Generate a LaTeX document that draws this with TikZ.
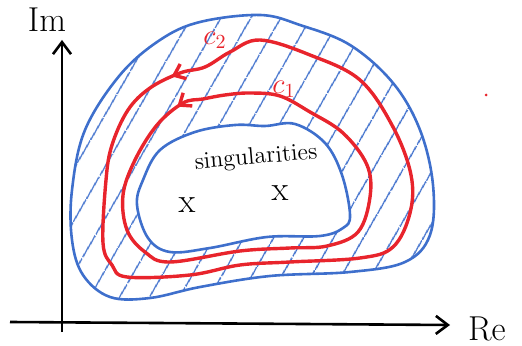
\documentclass[tikz,border=0pt]{standalone}
\usepackage{tikz}
\usetikzlibrary{arrows.meta,patterns.meta,decorations.markings}
\definecolor{contourRed}{HTML}{E8242C}
\definecolor{regionBlue}{HTML}{3E6FCC}

\tikzset{
  axisline/.style={line width=1.3pt, black, -{Straight Barb[length=6pt,width=9pt]}},
  regionline/.style={line width=1.3pt, regionBlue},
  hatched/.style={pattern={Lines[angle=60,distance=13pt,line width=0.8pt]}, pattern color=regionBlue},
  contour/.style={line width=1.7pt, contourRed, postaction={decorate},
    decoration={markings, mark=at position 0.01 with {\arrow{Straight Barb[length=5pt,width=8pt]}}}},
  lbl/.style={inner sep=1pt},
}

\begin{document}
\begin{tikzpicture}[x=0.5pt, y=-0.5pt]
  \useasboundingbox (0,0) rectangle (522,346);
  % region between the two blue curves
  \draw[regionline, hatched] plot[smooth cycle, tension=0.6] coordinates {
    (200,22) (260,15) (300,25) (350,45) (393,83) (420,130) (433,185) (430,235)
    (405,262) (350,272) (270,276) (200,287) (150,298) (110,297) (83,275)
    (72,240) (72,190) (85,130) (120,75) (160,40)};
  \draw[regionline, fill=white] plot[smooth cycle, tension=0.6] coordinates {
    (137,205) (143,180) (160,150) (195,132) (235,125) (265,126) (295,124)
    (325,143) (342,175) (350,215) (343,228) (320,236) (267,237) (210,248)
    (170,252) (148,238)};
  % contours
  \draw[contour] plot[smooth cycle, tension=0.6] coordinates {
    (205,67) (180,73) (150,88) (128,110) (112,145) (106,180) (103,243)
    (112,265) (127,277) (190,275) (240,265) (290,262) (360,258) (393,247)
    (410,213) (411,175) (393,127) (360,80) (310,55) (260,40) (230,52)};
  \draw[contour] plot[smooth cycle, tension=0.6] coordinates {
    (203,99) (183,103) (157,125) (135,160) (123,195) (127,230) (145,252)
    (170,262) (240,251) (290,248) (327,246) (358,232) (370,197) (367,165)
    (343,133) (310,112) (280,96) (250,93) (225,95)};
  \node[lbl, text=contourRed, font=\Large] (ctwo) at (215,40) {$c_2$};
  \node[lbl, text=contourRed, font=\Large] (cone) at (284,89) {$c_1$};
  % axes
  \coordinate (imstart) at (62,332);
  \coordinate (imtip) at (62,40);
  \coordinate (restart) at (10,322);
  \coordinate (retip) at (450,325);
  \draw[axisline] (imstart) -- (imtip);
  \draw[axisline] (restart) -- (retip);
  \node[lbl, font=\LARGE] (imlabel) at (47,20) {Im};
  \node[lbl, font=\LARGE] (relabel) at (487,329) {Re};
  % singular points
  \node[lbl, font=\large, rotate=5] (sing) at (256,158) {singularities};
  \node[lbl, font=\LARGE] (xone) at (187,205) {x};
  \node[lbl, font=\LARGE] (xtwo) at (280,193) {x};
  \fill[contourRed] (486,95) circle (1.5);
\end{tikzpicture}
\end{document}
